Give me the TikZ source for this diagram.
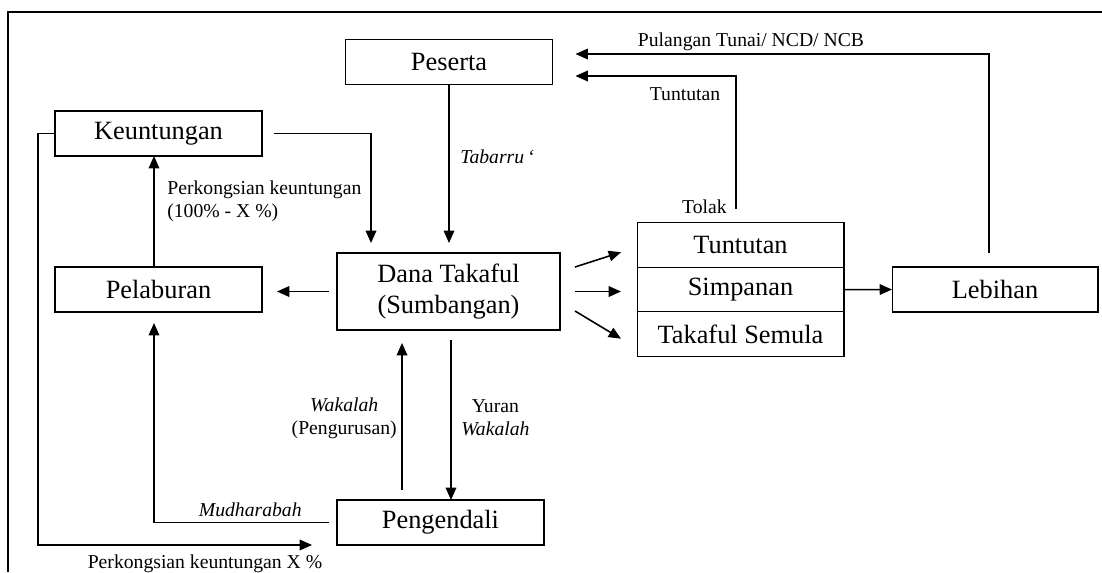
\documentclass[tikz,border=0pt]{standalone}
\usepackage{fontspec}
\setmainfont{Liberation Serif}
\usetikzlibrary{arrows.meta,positioning}
\begin{document}
\begin{tikzpicture}[x=0.02cm, y=-0.02cm,
  box/.style={draw, line width=0.6pt, minimum width=4.14cm, minimum height=0.9cm, inner sep=0pt, outer sep=0pt, font=\fontsize{15}{18}\selectfont},
  lbl/.style={font=\fontsize{11.2}{13}\selectfont, inner sep=0pt, align=center},
  arr/.style={-{Triangle[length=7pt,width=6pt]}, line width=0.9pt}]
\useasboundingbox (0,0) rectangle (1102,572);
\draw[line width=1.2pt] (8,572) -- (8,12) -- (1102,12);
\node[box] (peserta) at (449,62) {Peserta};
\node[box] (keuntungan) at (158.5,133.5) {Keuntungan};
\node[box] (pelaburan) at (158.5,289.5) {Pelaburan};
\node[box, minimum width=4.46cm, minimum height=1.54cm, align=center] (dana) at (448.5,291.5) {Dana Takaful\\(Sumbangan)};
\node[box] (pengendali) at (440.5,522.5) {Pengendali};
\node[box, minimum height=0.89cm] (tuntutan) at (740.5,245.2) {Tuntutan};
\node[box, minimum height=0.89cm, below=0pt of tuntutan] (simpanan) {Simpanan};
\node[box, minimum height=0.89cm, below=0pt of simpanan] (semula) {Takaful Semula};
\node[box, minimum width=4.12cm] (lebihan) at (995,289.5) {Lebihan};
\node[lbl, anchor=west] (tabarru) at (460,157) {\textit{Tabarru\,‘}};
\node[lbl, anchor=west, align=left] (kongsi) at (167,201) {Perkongsian keuntungan\\(100\% - X \%)};
\node[lbl, anchor=east] (mudh) at (302,510) {\textit{Mudharabah}};
\node[lbl] (kongsix) at (205,564) {Perkongsian keuntungan X \%};
\node[lbl, anchor=east] (wakalah) at (397,418) {\textit{Wakalah}\\(Pengurusan)};
\node[lbl, anchor=west] (yuran) at (461,418) {Yuran\\\textit{Wakalah}};
\node[lbl, anchor=east] (tolak) at (727,207) {Tolak};
\node[lbl] (tuntutanlbl) at (685,94) {Tuntutan};
\node[lbl] (pulangan) at (751,42) {Pulangan Tunai/ NCD/ NCB};
\draw[arr, shorten >=0.2cm] (peserta.south) -- (peserta.south |- dana.north);
\draw[arr, shorten <=0.24cm, shorten >=0.2cm] (keuntungan.east) -| ([xshift=0.68cm]dana.north west);
\draw[arr] ([xshift=-0.09cm]pelaburan.north) -- ([xshift=-0.09cm]keuntungan.south);
\draw[arr, shorten <=0.16cm, shorten >=0.3cm] (dana.west) -- (dana.west -| pelaburan.east);
\draw[arr, shorten <=0.16cm, shorten >=0.22cm] (pengendali.west) -| ([xshift=-0.09cm]pelaburan.south);
\draw[arr, shorten >=0.5cm] (keuntungan.west) -- ++(-17,0) |- (pengendali.south west);
\draw[arr, shorten <=0.2cm, shorten >=0.26cm] ([xshift=-0.77cm]pengendali.north) -- ([xshift=-0.77cm]pengendali.north |- dana.south);
\draw[arr, shorten <=0.2cm] ([xshift=0.05cm]dana.south) -- ([xshift=0.05cm]dana.south |- pengendali.north);
\draw[arr] ([shift={(0.3cm,0.49cm)}]dana.east) -- ([shift={(-0.32cm,-0.14cm)}]tuntutan.west);
\draw[arr] ([xshift=0.3cm]dana.east) -- ([xshift=-0.32cm]dana.east -| simpanan.west);
\draw[arr] ([shift={(0.3cm,-0.39cm)}]dana.east) -- ([shift={(-0.32cm,-0.09cm)}]semula.west);
\draw[arr] (simpanan.east) -- (lebihan.west);
\draw[arr, shorten >=0.46cm] ([xshift=-0.09cm,yshift=0.28cm]tuntutan.north) |- ([yshift=-0.28cm]peserta.east);
\draw[arr, shorten >=0.46cm] ([xshift=-0.12cm,yshift=0.28cm]lebihan.north) |- ([yshift=0.16cm]peserta.east);
\end{tikzpicture}
\end{document}
